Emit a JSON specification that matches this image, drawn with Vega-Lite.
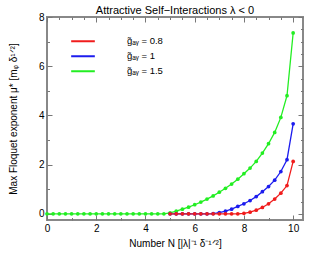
{
  "$schema": "https://vega.github.io/schema/vega-lite/v6.json",
  "width": 256,
  "height": 203,
  "autosize": {"type": "none"},
  "padding": {"left": 47, "top": 17, "right": 27, "bottom": 35},
  "title": {"text": "Attractive Self−Interactions  λ < 0", "fontSize": 11, "fontWeight": "normal", "font": "Liberation Sans", "offset": -4, "color": "black"},
  "config": {
    "font": "Liberation Sans",
    "view": {"stroke": "#888888", "strokeWidth": 2},
    "axis": {"domain": false, "grid": false, "labelFont": "Liberation Sans", "labelFontSize": 10, "labelColor": "black", "tickColor": "#777777", "titleFont": "Liberation Sans", "titleFontSize": 10, "titleFontWeight": "normal", "titleColor": "black"}
  },
  "data": {"values": [
    {"x": 0, "y": 0, "s": "1.5"}, {"x": 0.25, "y": 0, "s": "1.5"}, {"x": 0.5, "y": 0, "s": "1.5"}, {"x": 0.75, "y": 0, "s": "1.5"},
    {"x": 1, "y": 0, "s": "1.5"}, {"x": 1.25, "y": 0, "s": "1.5"}, {"x": 1.5, "y": 0, "s": "1.5"}, {"x": 1.75, "y": 0, "s": "1.5"},
    {"x": 2, "y": 0, "s": "1.5"}, {"x": 2.25, "y": 0, "s": "1.5"}, {"x": 2.5, "y": 0, "s": "1.5"}, {"x": 2.75, "y": 0, "s": "1.5"},
    {"x": 3, "y": 0, "s": "1.5"}, {"x": 3.25, "y": 0, "s": "1.5"}, {"x": 3.5, "y": 0, "s": "1.5"}, {"x": 3.75, "y": 0, "s": "1.5"},
    {"x": 4, "y": 0, "s": "1.5"}, {"x": 4.25, "y": 0, "s": "1.5"}, {"x": 4.5, "y": 0, "s": "1.5"}, {"x": 4.75, "y": 0, "s": "1.5"},
    {"x": 5, "y": 0.04, "s": "1.5"}, {"x": 5.25, "y": 0.11, "s": "1.5"}, {"x": 5.5, "y": 0.19, "s": "1.5"}, {"x": 5.75, "y": 0.27, "s": "1.5"},
    {"x": 6, "y": 0.37, "s": "1.5"}, {"x": 6.25, "y": 0.48, "s": "1.5"}, {"x": 6.5, "y": 0.6, "s": "1.5"}, {"x": 6.75, "y": 0.73, "s": "1.5"},
    {"x": 7, "y": 0.88, "s": "1.5"}, {"x": 7.25, "y": 1.04, "s": "1.5"}, {"x": 7.5, "y": 1.21, "s": "1.5"}, {"x": 7.75, "y": 1.41, "s": "1.5"},
    {"x": 8, "y": 1.63, "s": "1.5"}, {"x": 8.25, "y": 1.86, "s": "1.5"}, {"x": 8.5, "y": 2.13, "s": "1.5"}, {"x": 8.75, "y": 2.47, "s": "1.5"},
    {"x": 9, "y": 2.85, "s": "1.5"}, {"x": 9.25, "y": 3.31, "s": "1.5"}, {"x": 9.5, "y": 3.92, "s": "1.5"}, {"x": 9.75, "y": 4.8, "s": "1.5"},
    {"x": 10, "y": 7.35, "s": "1.5"},
    {"x": 5, "y": 0, "s": "1"}, {"x": 5.25, "y": 0, "s": "1"}, {"x": 5.5, "y": 0, "s": "1"}, {"x": 5.75, "y": 0, "s": "1"},
    {"x": 6, "y": 0, "s": "1"}, {"x": 6.25, "y": 0, "s": "1"}, {"x": 6.5, "y": 0, "s": "1"}, {"x": 6.75, "y": 0.01, "s": "1"},
    {"x": 7, "y": 0.05, "s": "1"}, {"x": 7.25, "y": 0.11, "s": "1"}, {"x": 7.5, "y": 0.19, "s": "1"}, {"x": 7.75, "y": 0.3, "s": "1"},
    {"x": 8, "y": 0.41, "s": "1"}, {"x": 8.25, "y": 0.54, "s": "1"}, {"x": 8.5, "y": 0.7, "s": "1"}, {"x": 8.75, "y": 0.9, "s": "1"},
    {"x": 9, "y": 1.11, "s": "1"}, {"x": 9.25, "y": 1.37, "s": "1"}, {"x": 9.5, "y": 1.72, "s": "1"}, {"x": 9.75, "y": 2.2, "s": "1"},
    {"x": 10, "y": 3.66, "s": "1"},
    {"x": 5, "y": 0, "s": "0.8"}, {"x": 5.25, "y": 0, "s": "0.8"}, {"x": 5.5, "y": 0, "s": "0.8"}, {"x": 5.75, "y": 0, "s": "0.8"},
    {"x": 6, "y": 0, "s": "0.8"}, {"x": 6.25, "y": 0, "s": "0.8"}, {"x": 6.5, "y": 0, "s": "0.8"}, {"x": 6.75, "y": 0, "s": "0.8"},
    {"x": 7, "y": 0, "s": "0.8"}, {"x": 7.25, "y": 0, "s": "0.8"}, {"x": 7.5, "y": 0, "s": "0.8"}, {"x": 7.75, "y": 0, "s": "0.8"},
    {"x": 8, "y": 0.02, "s": "0.8"}, {"x": 8.25, "y": 0.07, "s": "0.8"}, {"x": 8.5, "y": 0.15, "s": "0.8"}, {"x": 8.75, "y": 0.26, "s": "0.8"},
    {"x": 9, "y": 0.41, "s": "0.8"}, {"x": 9.25, "y": 0.6, "s": "0.8"}, {"x": 9.5, "y": 0.84, "s": "0.8"}, {"x": 9.75, "y": 1.15, "s": "0.8"},
    {"x": 10, "y": 2.13, "s": "0.8"}
  ]},
  "resolve": {"axis": {"x": "independent", "y": "independent"}},
  "layer": [
    {
      "mark": {"type": "line", "strokeWidth": 1.3},
      "encoding": {
        "x": {"field": "x", "type": "quantitative", "scale": {"domain": [0, 10.4], "nice": false, "zero": false},
              "axis": {"orient": "bottom", "values": [0,0.5,1,1.5,2,2.5,3,3.5,4,4.5,5,5.5,6,6.5,7,7.5,8,8.5,9,9.5,10],
                       "format": "d",
                       "labelExpr": "datum.value % 2 === 0 ? datum.label : ''",
                       "tickSize": {"condition": {"test": "datum.value % 2 === 0", "value": -5}, "value": -2.5},
                       "labelPadding": 8, "labelFlush": false,
                       "title": "Number  N [|λ|⁻¹ δ⁻¹ᐟ²]", "titleY": 23, "titleBaseline": "middle"}},
        "y": {"field": "y", "type": "quantitative", "scale": {"domain": [-0.25, 8], "nice": false, "zero": false},
              "axis": {"orient": "left", "values": [0,0.5,1,1.5,2,2.5,3,3.5,4,4.5,5,5.5,6,6.5,7,7.5,8],
                       "format": "d",
                       "labelExpr": "datum.value % 2 === 0 ? datum.label : ''",
                       "tickSize": {"condition": {"test": "datum.value % 2 === 0", "value": -5}, "value": -2.5},
                       "labelPadding": 8, "labelFlush": false,
                       "title": "Max Floquet exponent  μ* [mᵩ δ¹ᐟ²]", "titleX": -34, "titleY": 101.5, "titleBaseline": "middle", "titleAngle": -90}},
        "color": {"field": "s", "type": "nominal",
                  "scale": {"domain": ["0.8", "1", "1.5"], "range": ["#f01c1c", "#1c1cee", "#22ee22"]},
                  "legend": {"orient": "none", "legendX": 23, "legendY": 18, "title": null,
                             "symbolType": "stroke", "symbolSize": 560, "symbolStrokeWidth": 1.8,
                             "clipHeight": 12.5,
                             "labelExpr": "'g̃ₐᵧ  = ' + datum.label", "labelFontSize": 9.5, "labelFont": "Liberation Sans",
                             "rowPadding": 2, "labelOffset": 31}}
      }
    },
    {
      "mark": {"type": "point", "filled": true, "size": 14, "opacity": 1},
      "encoding": {
        "x": {"field": "x", "type": "quantitative", "axis": {"orient": "top", "values": [0,0.5,1,1.5,2,2.5,3,3.5,4,4.5,5,5.5,6,6.5,7,7.5,8,8.5,9,9.5,10], "labels": false, "title": null,
              "tickSize": {"condition": {"test": "datum.value % 2 === 0", "value": -5}, "value": -2.5}}},
        "y": {"field": "y", "type": "quantitative", "axis": {"orient": "right", "values": [0,0.5,1,1.5,2,2.5,3,3.5,4,4.5,5,5.5,6,6.5,7,7.5,8], "labels": false, "title": null,
              "tickSize": {"condition": {"test": "datum.value % 2 === 0", "value": -5}, "value": -2.5}}},
        "color": {"field": "s", "type": "nominal"}
      }
    }
  ]
}
